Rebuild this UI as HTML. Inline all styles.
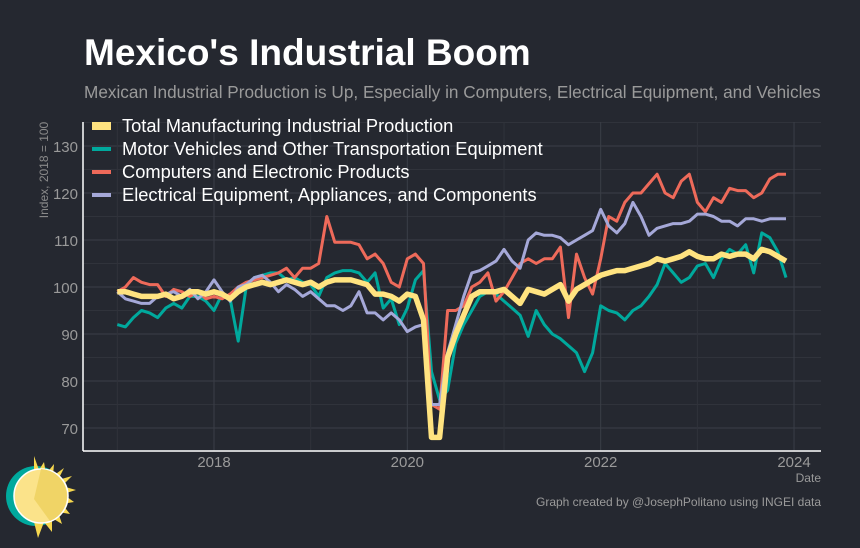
<!DOCTYPE html>
<html><head><meta charset="utf-8"><style>
body{margin:0;background:#252830;}
svg{display:block;font-family:"Liberation Sans",sans-serif;}
</style></head><body>
<svg id="c" width="860" height="548" viewBox="0 0 860 548">
<rect width="860" height="548" fill="#252830"/>
<text x="84" y="65" fill="#fff" font-size="37" font-weight="bold">Mexico's Industrial Boom</text>
<text x="84" y="98" fill="#9a9a9a" font-size="17.2">Mexican Industrial Production is Up, Especially in Computers, Electrical Equipment, and Vehicles</text>
<g id="grid"></g>
<g id="yt"></g>
<g id="xt"></g>
<text transform="translate(48,170) rotate(-90)" fill="#8a8a8a" font-size="12" text-anchor="middle">Index, 2018 = 100</text>
<text x="821" y="482" fill="#9a9a9a" font-size="12" text-anchor="end">Date</text>
<g id="series"></g>
<line x1="83" y1="122" x2="83" y2="451" stroke="#fff" stroke-width="1.5"/>
<line x1="83" y1="451" x2="821" y2="451" stroke="#fff" stroke-width="1.5"/>
<g id="legend"></g>
<text x="821" y="506" fill="#9a9a9a" font-size="12" text-anchor="end">Graph created by @JosephPolitano using INGEI data</text>
<g>
<circle cx="36" cy="496" r="30" fill="#00a99d"/>
<polygon points="34,456 39,470 44,462 46,474 54,464 53,476 64,468 58,480 72,476 62,486 76,490 63,494 74,502 62,504 70,514 58,512 62,524 52,518 52,532 44,522 38,538 34,522" fill="#f7d84f"/>
<circle cx="41" cy="496" r="27" fill="#fbe38a" stroke="#fff" stroke-width="1.5"/>
<path d="M41,469 A27,27 0 0 1 50,521 L34,499 Z" fill="#f0d466"/>
</g>
</svg>
<script>
const years = [2018, 2020, 2022, 2024];
const yTicks = [70, 80, 90, 100, 110, 120, 130];
const seriesNames = ["Total Manufacturing Industrial Production","Motor Vehicles and Other Transportation Equipment","Computers and Electronic Products","Electrical Equipment, Appliances, and Components"];
const total = [99,99,98.5,98,98,98,98.5,97.5,98,99,99,98.5, 99,98.5,97.5,99,100,100.5,101,100.5,101,101.5,101,100.5, 101,100,101,101.5,101.5,101.5,101,100.5,98.5,98.5,98,97, 98.5,98,93,68,68,85,90,94,98,99,99,99, 99.5,98,96.5,99.5,99,98.5,99.5,100.5, 97,99.5,100.5,101.5,102.5,103,103.5,103.5,104,104.5,105,106,105.5,106,106.5,107.5,106.5,106,106,107,106.5,107,107,106,108,107.5,106.5,105.5];
const motor = [92,91.5,93.5,95,94.5,93.5,95.5,96.5,95.5,98,98,97, 95,98.5,97.5,88.5,100,102,102.5,103,103,101.5,102,101, 100.5,98,102,103,103.5,103.5,103,101,103,95.5,97.5,92, 95.5,101.5,103.5,82,76,78,88,92,95,98,99,98.5, 97,95.5,94,89.5,95,92,90,89,87.5,86,82,86, 96,95,94.5,93,95,96,98,100.5,105,103,101,102, 104.5,105,102,106,108,107,109,103,111.5,110.5,107.5,102];
const computers = [99,100,102,101,100.5,100.5,98,99.5,99,98,99,97.5, 98,97.5,98.5,100,101,101.5,102,102.5,103,104,102,104, 104,105,115,109.5,109.5,109.5,109,106,107,105,101,100, 106,107,105,75,74,95,95,96,100,101,103,97, 99,102,105,106,105,106,106,108.5,93.5,107,102,98.5, 106,115,114,118,120,120,122,124,120,119,122.5,124, 118,116,119,118,121,120.5,120.5,119,120,123,124,124];
const electrical = [99,97.5,97,96.5,96.5,98,98.5,99,98,99.5,97.5,99, 101.5,99,97,100,100.5,102,102.5,101,99,100.5,99.5,98, 99,97.5,96,96,95,96,99,94.5,94.5,93,94.5,93, 90.5,91.5,92,75,75,86,92,98,103,103.5,104.5,105.5, 108,105.5,104,110,111.5,111,111,110.5,109,110,111,112, 116.5,113,111.5,113.5,118,115,111,112.5,113,113.5,113.5,114, 115.5,115.5,115,114,114,113,114.5,114.5,114,114.5,114.5,114.5];
const colors = ["#ffe380","#00a99d","#ee6a5a","#a5a8d8"];
const widths = [5.5,3,3,3];
const NS = "http://www.w3.org/2000/svg";
const xs = t => 214 + (t - 2018) * 96.67;
const ys = v => 287 - (v - 100) * 4.7;
const grid = document.getElementById('grid');
function ln(g,x1,y1,x2,y2,c,w){const l=document.createElementNS(NS,'line');l.setAttribute('x1',x1);l.setAttribute('y1',y1);l.setAttribute('x2',x2);l.setAttribute('y2',y2);l.setAttribute('stroke',c);l.setAttribute('stroke-width',w);g.appendChild(l);return l;}
for (let v = 65; v <= 135; v += 5) {
  const l = ln(grid, 83, ys(v), 821, ys(v), v % 10 === 0 ? "#3a3e47" : "#30333b", 1);
  
  
}
for (let t = 2017; t <= 2024; t++) {
  const l = ln(grid, xs(t), 122, xs(t), 451, t % 2 === 0 ? "#3a3e47" : "#30333b", 1);
  
  
}
const yt = document.getElementById('yt');
yTicks.forEach(v => {
  const t = document.createElementNS(NS, 'text');
  t.setAttribute('x', 78); t.setAttribute('y', ys(v) + 6);
  t.setAttribute('fill', '#9a9a9a'); t.setAttribute('font-size', '15'); t.setAttribute('text-anchor', 'end');
  t.textContent = v;
  
  
  yt.appendChild(t);
});
const xt = document.getElementById('xt');
years.forEach(y => {
  const t = document.createElementNS(NS, 'text');
  t.setAttribute('x', xs(y)); t.setAttribute('y', 467);
  t.setAttribute('fill', '#9a9a9a'); t.setAttribute('font-size', '15'); t.setAttribute('text-anchor', 'middle');
  t.textContent = y;
  
  
  xt.appendChild(t);
});
const sg = document.getElementById('series');
const data = [total, motor, computers, electrical];
const order = [1, 2, 3, 0];
const keys = ['motor-vehicles-line','computers-line','electrical-line','total-manufacturing-line'];
order.forEach((i, k) => {
  const d = data[i].map((v, j) => (j ? 'L' : 'M') + xs(2017 + j / 12).toFixed(1) + ',' + ys(v).toFixed(1)).join('');
  const p = document.createElementNS(NS, 'path');
  p.setAttribute('d', d); p.setAttribute('fill', 'none'); p.setAttribute('stroke', colors[i]);
  p.setAttribute('stroke-width', widths[i]); p.setAttribute('stroke-linejoin', 'round');
  
  
  sg.appendChild(p);
});
const lg = document.getElementById('legend');
seriesNames.forEach((n, i) => {
  const y = 126 + i * 23;
  const g = document.createElementNS(NS, 'g');
  
  
  const r = document.createElementNS(NS, 'rect');
  r.setAttribute('x', 92); r.setAttribute('y', y - (i === 0 ? 4 : 2));
  r.setAttribute('width', 19); r.setAttribute('height', i === 0 ? 8 : 4); r.setAttribute('fill', colors[i]);
  g.appendChild(r);
  const t = document.createElementNS(NS, 'text');
  t.setAttribute('x', 122); t.setAttribute('y', y + 6);
  t.setAttribute('fill', '#fff'); t.setAttribute('font-size', '18.3');
  t.textContent = n;
  g.appendChild(t);
  lg.appendChild(g);
});
</script>
</body></html>
